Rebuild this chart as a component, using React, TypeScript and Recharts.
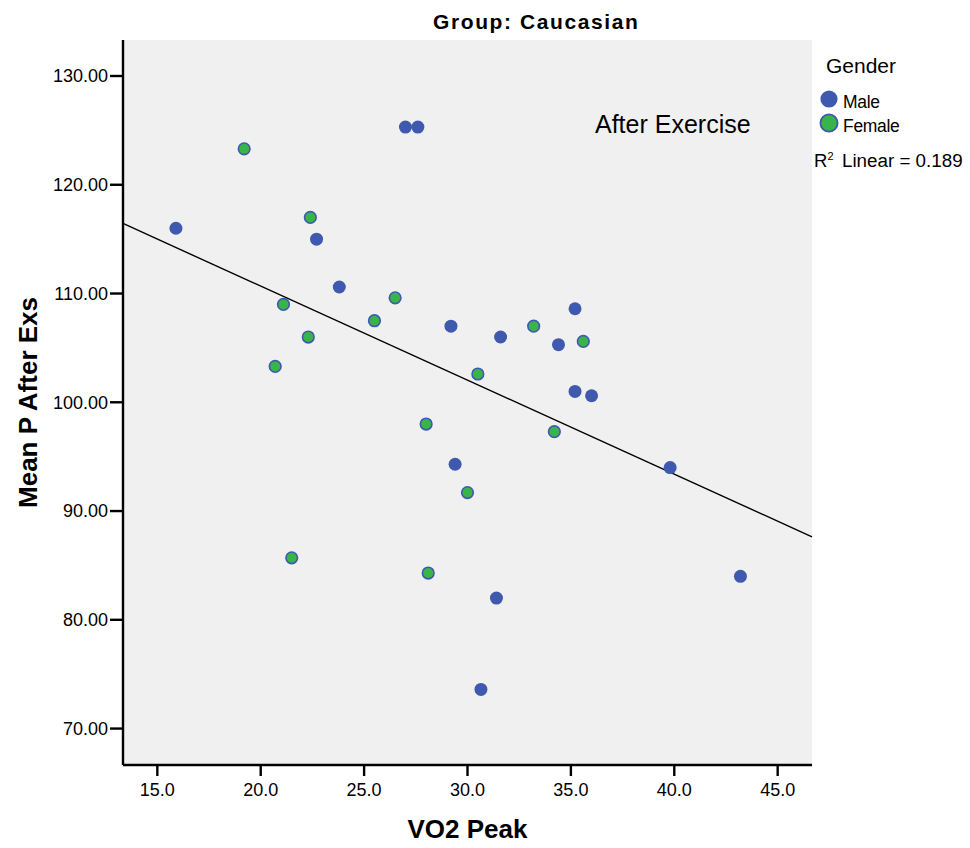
import React from 'react';
import {
  ScatterChart,
  Scatter,
  XAxis,
  YAxis,
  CartesianGrid,
  ReferenceLine,
  Legend,
  Label,
} from 'recharts';

// VO2 peak (x) vs mean P after exercise (y)
const maleX = [27.0, 27.6, 15.9, 22.7, 23.8, 29.2, 35.2, 31.6, 34.4, 35.2, 36.0, 29.4, 30.65, 39.8, 43.2, 31.4];
const maleY = [125.3, 125.3, 116.0, 115.0, 110.6, 107.0, 108.6, 106.0, 105.3, 101.0, 100.6, 94.3, 73.6, 94.0, 84.0, 82.0];
const femaleX = [19.2, 22.4, 26.5, 21.1, 25.5, 22.3, 20.7, 30.5, 28.0, 33.2, 35.6, 30.0, 21.5, 28.1, 34.2];
const femaleY = [123.3, 117.0, 109.6, 109.0, 107.5, 106.0, 103.3, 102.6, 98.0, 107.0, 105.6, 91.7, 85.7, 84.3, 97.3];

// fit line (R² linear = 0.189) at the plot edges
const fitX = [13.34, 46.66];
const fitY = [116.44, 87.63];

const genders = ['Male', 'Female'];
const xTicks = [15, 20, 25, 30, 35, 40, 45];
const yTicks = [70, 80, 90, 100, 110, 120, 130];
const xDomain: [number, number] = [13.34, 46.66];
const yDomain: [number, number] = [66.65, 133.31];

const BLUE = '#3e59ad';
const GREEN = '#38b449';
const FONT = '"Liberation Sans", Arial, sans-serif';

const male = maleX.map((x, i) => ({ x, y: maleY[i] }));
const female = femaleX.map((x, i) => ({ x, y: femaleY[i] }));

const maleDot = (p: any) => <circle cx={p.cx} cy={p.cy} r={6.5} fill={BLUE} />;
const femaleDot = (p: any) => (
  <circle cx={p.cx} cy={p.cy} r={5.8} fill={GREEN} stroke={BLUE} strokeWidth={1.6} />
);

function GenderLegend(props: any) {
  const items = [...(props.payload || [])].sort(
    (a: any, b: any) => genders.indexOf(a.value) - genders.indexOf(b.value)
  );
  return (
    <svg width={165} height={130} style={{ fontFamily: FONT }}>
      <text x={21} y={23} fontSize={21} fill="#000">
        Gender
      </text>
      {items.map((it: any, i: number) => (
        <g key={it.value}>
          <circle
            cx={24}
            cy={49 + i * 24}
            r={8.6}
            fill={it.value === 'Male' ? BLUE : GREEN}
            stroke={BLUE}
            strokeWidth={it.value === 'Male' ? 0 : 1.8}
          />
          <text x={38} y={58 + i * 24} fontSize={17.5} fill="#000" letterSpacing={-0.3}>
            {it.value}
          </text>
        </g>
      ))}
      <text x={9} y={117} fontSize={18.5} fill="#000">
        R<tspan fontSize={11} dy={-7}>2</tspan>
      </text>
      <text x={37} y={117} fontSize={18.8} fill="#000">
        Linear = 0.189
      </text>
    </svg>
  );
}

export default function App() {
  return (
    <div
      style={{
        position: 'absolute',
        left: 0,
        top: 0,
        width: 970,
        height: 848,
        background: '#fff',
        fontFamily: FONT,
      }}
    >
      <ScatterChart
        width={970}
        height={848}
        margin={{ top: 40, right: 158, bottom: 10, left: 33 }}
        style={{ fontFamily: FONT }}
      >
        <CartesianGrid fill="#f0f0f0" horizontal={false} vertical={false} />
        <XAxis
          type="number"
          dataKey="x"
          domain={xDomain}
          ticks={xTicks}
          allowDataOverflow
          height={73}
          tickSize={11}
          tickMargin={7}
          tickFormatter={(v: number) => v.toFixed(1)}
          tick={{ fill: '#000', fontSize: 18 }}
          tickLine={{ stroke: '#000', strokeWidth: 2.4 }}
          axisLine={{ stroke: '#000', strokeWidth: 2.4 }}
        >
          <Label
            value="VO2 Peak"
            position="insideBottom"
            offset={0}
            fill="#000"
            fontSize={26}
            fontWeight="bold"
          />
        </XAxis>
        <XAxis
          xAxisId="top"
          orientation="top"
          type="number"
          domain={xDomain}
          allowDataOverflow
          height={0}
          tick={false}
          tickLine={false}
          axisLine={{ stroke: '#222', strokeWidth: 1.5 }}
        />
        <YAxis
          type="number"
          dataKey="y"
          domain={yDomain}
          ticks={yTicks}
          allowDataOverflow
          width={90}
          tickSize={13}
          tickMargin={2}
          tickFormatter={(v: number) => v.toFixed(2)}
          tick={{ fill: '#000', fontSize: 18 }}
          tickLine={{ stroke: '#000', strokeWidth: 2.4 }}
          axisLine={{ stroke: '#000', strokeWidth: 2.4 }}
        >
          <Label
            content={(p: any) => {
              const vb = p.viewBox || { x: 33, y: 40, height: 725 };
              const cx = vb.x + 4;
              const cy = vb.y + vb.height / 2;
              return (
                <text
                  x={cx}
                  y={cy}
                  transform={`rotate(-90 ${cx} ${cy})`}
                  textAnchor="middle"
                  fontSize={26}
                  fontWeight="bold"
                  fill="#000"
                >
                  Mean P After Exs
                </text>
              );
            }}
          />
        </YAxis>
        <YAxis
          yAxisId="right"
          orientation="right"
          type="number"
          domain={yDomain}
          allowDataOverflow
          width={0}
          tick={false}
          tickLine={false}
          axisLine={{ stroke: '#222', strokeWidth: 1.5 }}
        />
        <ReferenceLine
          segment={[
            { x: fitX[0], y: fitY[0] },
            { x: fitX[1], y: fitY[1] },
          ]}
          stroke="#000"
          strokeWidth={1.4}
        />
        <Scatter name="Male" data={male} fill={BLUE} shape={maleDot} isAnimationActive={false} />
        <Scatter name="Female" data={female} fill={GREEN} shape={femaleDot} isAnimationActive={false} />
        <Legend
          layout="horizontal"
          verticalAlign="middle"
          align="center"
          content={GenderLegend}
          wrapperStyle={{ left: 805, top: 50, width: 165, height: 130 }}
        />
      </ScatterChart>
      <svg
        width={970}
        height={848}
        style={{ position: 'absolute', left: 0, top: 0, pointerEvents: 'none', fontFamily: FONT }}
      >
        <text x={433} y={29} fontSize={21} fontWeight="bold" letterSpacing={1.6} fill="#000">
          Group: Caucasian
        </text>
        <text x={595} y={133} fontSize={25} fill="#000">
          After Exercise
        </text>
      </svg>
    </div>
  );
}
